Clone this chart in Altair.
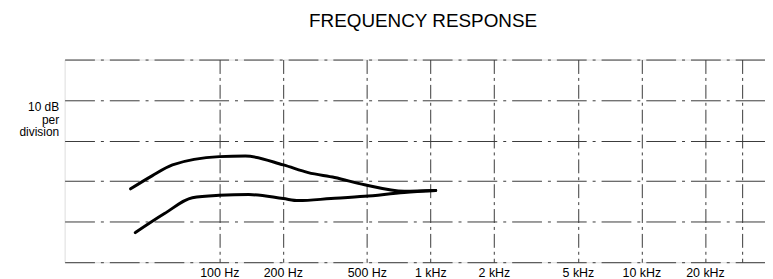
import altair as alt
import pandas as pd

# Data
freq_upper = [38, 48, 60, 100, 133, 201, 264, 352, 488, 752, 1060]
db_upper = [18.1, 21.3, 24.0, 26.05, 26.2, 24.0, 22.1, 20.9, 19.1, 17.5, 17.7]
freq_lower = [40, 55, 74.5, 100, 138, 201, 237, 338, 488, 752, 1060]
db_lower = [7.3, 12.0, 15.9, 16.5, 16.7, 15.7, 15.2, 15.7, 16.25, 17.2, 17.7]

tick_freqs = [100, 200, 500, 1000, 2000, 5000, 10000, 20000, 30000]
tick_labels = ["100 Hz", "200 Hz", "500 Hz", "1 kHz", "2 kHz", "5 kHz", "10 kHz", "20 kHz", ""]
db_grid = [0, 10, 20, 30, 40, 50]

rows = []
for f, d in zip(freq_upper, db_upper):
    rows.append({"curve": "upper", "freq": f, "db": d})
for f, d in zip(freq_lower, db_lower):
    rows.append({"curve": "lower", "freq": f, "db": d})
df = pd.DataFrame(rows)

label_expr = ""
for v, lab in zip(tick_freqs, tick_labels):
    label_expr += f"datum.value == {v} ? '{lab}' : "
label_expr += "''"

FONT = "Liberation Sans"
GRID_COLOR = "#3a3a3a"

chart = alt.Chart(df).mark_line(
    color="black", strokeWidth=3, interpolate="monotone", strokeCap="round"
).encode(
    x=alt.X(
        "freq:Q",
        scale=alt.Scale(type="log", domain=[18.5, 38500], nice=False),
        axis=alt.Axis(
            values=tick_freqs,
            labelExpr=label_expr,
            title=None,
            ticks=False,
            domain=False,
            grid=True,
            gridColor=GRID_COLOR,
            gridDash=[14, 4, 3, 4],
            gridWidth=1,
            labelFont=FONT,
            labelFontSize=12.5,
            labelColor="black",
            labelPadding=4,
            labelFlush=False,
            labelOverlap=False,
        ),
    ),
    y=alt.Y(
        "db:Q",
        scale=alt.Scale(domain=[0, 50], nice=False, zero=True),
        axis=alt.Axis(
            values=db_grid,
            labels=False,
            ticks=False,
            domain=False,
            grid=True,
            gridColor=GRID_COLOR,
            gridDash=[30, 6, 3, 6],
            gridWidth=1,
            title=["10 dB", "per", "division"],
            titleAngle=0,
            titleAlign="right",
            titleBaseline="alphabetic",
            titleX=-6,
            titleY=51.7,
            titleFont=FONT,
            titleFontSize=12,
            titleFontWeight="normal",
            titleLineHeight=12.6,
            titleColor="black",
        ),
    ),
    detail="curve:N",
).properties(
    width=705,
    height=204,
    autosize=alt.AutoSizeParams(type="none"),
    padding={"left": 57, "top": 51, "right": 0, "bottom": 16},
    title=alt.TitleParams(
        text="FREQUENCY RESPONSE",
        font=FONT,
        fontSize=19,
        fontWeight="normal",
        color="black",
        anchor="middle",
        frame="group",
        baseline="alphabetic",
        offset=13.5,
        dx=8.3,
    ),
).configure_view(
    stroke=GRID_COLOR, strokeWidth=1, strokeDash=[22, 5]
).configure(background="white")

chart.save("out.html", embed_options={"renderer": "svg", "actions": False})
